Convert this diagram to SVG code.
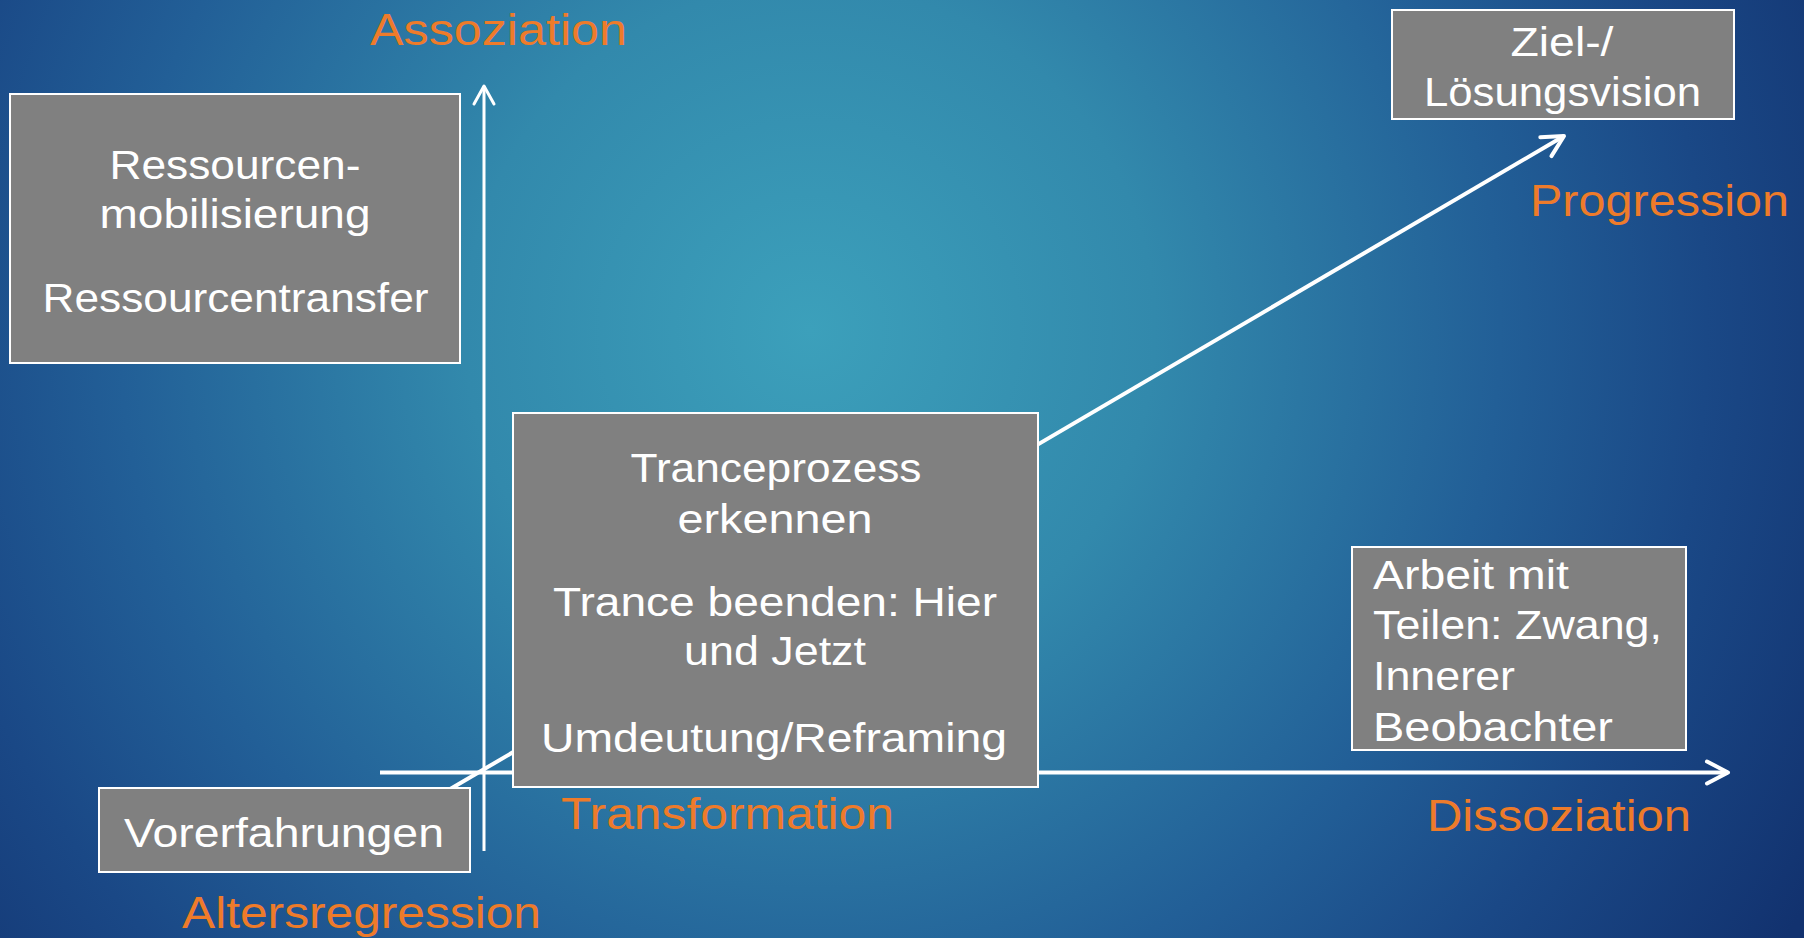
<svg xmlns="http://www.w3.org/2000/svg" width="1804" height="938" viewBox="0 0 1804 938">
  <defs>
    <radialGradient id="bg" gradientUnits="userSpaceOnUse" cx="810" cy="330" r="1150">
      <stop offset="0" stop-color="#3ca0bb"/>
      <stop offset="0.3" stop-color="#3289ac"/>
      <stop offset="0.6" stop-color="#225f97"/>
      <stop offset="0.78" stop-color="#1a4886"/>
      <stop offset="1" stop-color="#12326f"/>
    </radialGradient>
    <marker id="chev" markerUnits="userSpaceOnUse" markerWidth="30" markerHeight="30" viewBox="-26 -15 30 30" refX="0" refY="0" orient="auto">
      <path d="M -21 -11 L 0 0 L -21 11" fill="none" stroke="#ffffff" stroke-width="4" stroke-linecap="round" stroke-linejoin="round"/>
    </marker>
    <marker id="chevThin" markerUnits="userSpaceOnUse" markerWidth="30" markerHeight="30" viewBox="-26 -15 30 30" refX="0" refY="0" orient="auto">
      <path d="M -18 -10 L 0 0 L -18 10" fill="none" stroke="#ffffff" stroke-width="3" stroke-linecap="round" stroke-linejoin="round"/>
    </marker>
  </defs>
  <style>
    .box { fill: #808080; stroke: #ffffff; stroke-width: 2; }
    .t { font-family: "Liberation Sans", Arial, sans-serif; font-size: 40px; fill: #ffffff; }
    .c { text-anchor: middle; }
    .lbl { font-family: "Liberation Sans", Arial, sans-serif; font-size: 45px; fill: #ee7b2a; }
    .ax { stroke: #ffffff; fill: none; }
  </style>
  <rect x="0" y="0" width="1804" height="938" fill="url(#bg)"/>

  <g id="connectors">
    <line class="ax" x1="484" y1="851" x2="484" y2="86" stroke-width="3" marker-end="url(#chevThin)"/>
    <line class="ax" x1="380" y1="772.5" x2="1728" y2="772.5" stroke-width="4" marker-end="url(#chev)"/>
    <line class="ax" x1="440" y1="795" x2="1564" y2="136" stroke-width="4" marker-end="url(#chev)"/>
  </g>

  <g id="axis-labels">
    <text class="lbl" x="370" y="45" textLength="257" lengthAdjust="spacingAndGlyphs">Assoziation</text>
    <text class="lbl" x="1530" y="216" textLength="259" lengthAdjust="spacingAndGlyphs">Progression</text>
    <text class="lbl" x="561" y="829" textLength="333" lengthAdjust="spacingAndGlyphs">Transformation</text>
    <text class="lbl" x="1427" y="831" textLength="264" lengthAdjust="spacingAndGlyphs">Dissoziation</text>
    <text class="lbl" x="182" y="928" textLength="359" lengthAdjust="spacingAndGlyphs">Altersregression</text>
  </g>

  <g id="node-ressourcen">
    <rect class="box" x="10" y="94" width="450" height="269"/>
    <text class="t c" x="235" y="179" textLength="251" lengthAdjust="spacingAndGlyphs">Ressourcen-</text>
    <text class="t c" x="235" y="228" textLength="271" lengthAdjust="spacingAndGlyphs">mobilisierung</text>
    <text class="t c" x="235.5" y="312" textLength="386" lengthAdjust="spacingAndGlyphs">Ressourcentransfer</text>
  </g>

  <g id="node-ziel">
    <rect class="box" x="1392" y="10" width="342" height="109"/>
    <text class="t c" x="1562" y="56" textLength="103" lengthAdjust="spacingAndGlyphs">Ziel-/</text>
    <text class="t c" x="1562.5" y="106" textLength="277" lengthAdjust="spacingAndGlyphs">Lösungsvision</text>
  </g>

  <g id="node-trance">
    <rect class="box" x="513" y="413" width="525" height="374"/>
    <text class="t c" x="776" y="482" textLength="291" lengthAdjust="spacingAndGlyphs">Tranceprozess</text>
    <text class="t c" x="775" y="533" textLength="195" lengthAdjust="spacingAndGlyphs">erkennen</text>
    <text class="t c" x="775" y="616" textLength="444" lengthAdjust="spacingAndGlyphs">Trance beenden: Hier</text>
    <text class="t c" x="775" y="665" textLength="182" lengthAdjust="spacingAndGlyphs">und Jetzt</text>
    <text class="t c" x="774" y="752" textLength="466" lengthAdjust="spacingAndGlyphs">Umdeutung/Reframing</text>
  </g>

  <g id="node-arbeit">
    <rect class="box" x="1352" y="547" width="334" height="203"/>
    <text class="t" x="1373" y="589" textLength="196" lengthAdjust="spacingAndGlyphs">Arbeit mit</text>
    <text class="t" x="1373" y="639" textLength="289" lengthAdjust="spacingAndGlyphs">Teilen: Zwang,</text>
    <text class="t" x="1373" y="690" textLength="142" lengthAdjust="spacingAndGlyphs">Innerer</text>
    <text class="t" x="1373" y="741" textLength="240" lengthAdjust="spacingAndGlyphs">Beobachter</text>
  </g>

  <g id="node-vorerfahrungen">
    <rect class="box" x="99" y="788" width="371" height="84"/>
    <text class="t" x="124" y="847" textLength="320" lengthAdjust="spacingAndGlyphs">Vorerfahrungen</text>
  </g>
</svg>
